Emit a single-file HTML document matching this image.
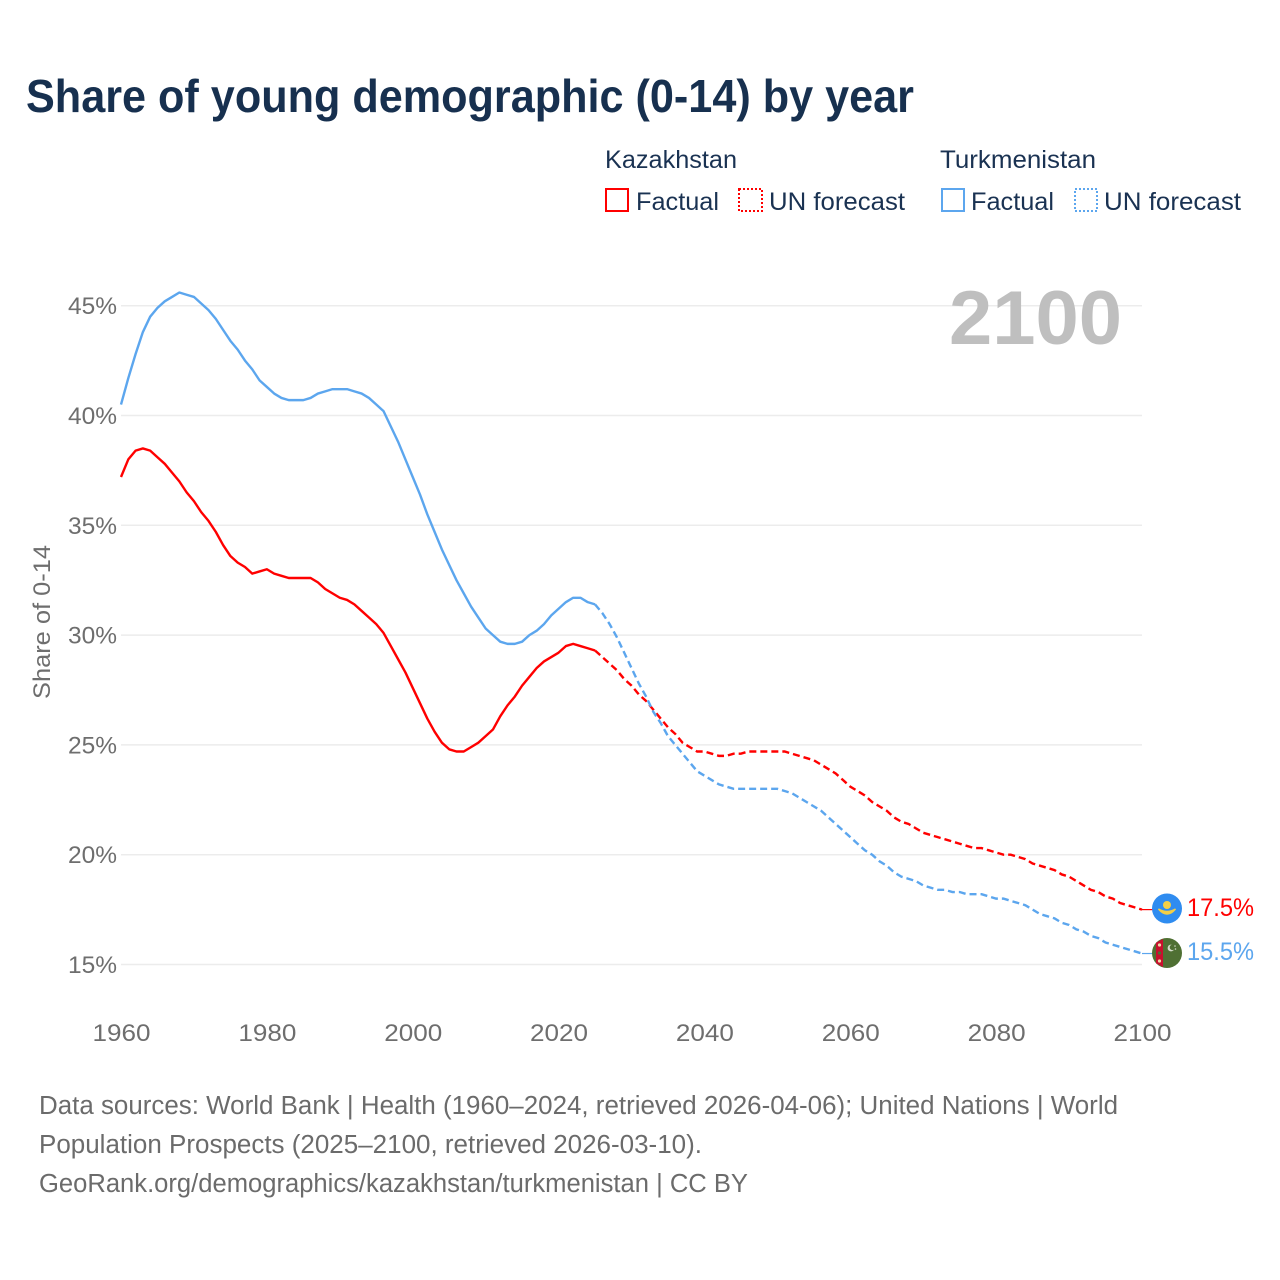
<!DOCTYPE html>
<html lang="en">
<head>
<meta charset="utf-8">
<title>Share of young demographic (0-14) by year</title>
<style>
  html, body { margin: 0; padding: 0; background: #fff; }
  svg { display: block; font-family: "Liberation Sans", sans-serif; }
</style>
</head>
<body>
<svg id="chart" xmlns="http://www.w3.org/2000/svg" width="1280" height="1280" viewBox="0 0 1280 1280">
  <rect width="1280" height="1280" fill="#ffffff"/>
  <text x="26" y="112" font-size="46" font-weight="700" fill="#17304f" textLength="888" lengthAdjust="spacingAndGlyphs">Share of young demographic (0-14) by year</text>

  <g font-size="25" fill="#1a3252">
    <text x="605" y="168" textLength="132" lengthAdjust="spacingAndGlyphs">Kazakhstan</text>
    <rect x="606" y="189" width="22" height="22" fill="none" stroke="#ff0000" stroke-width="2"/>
    <text x="636" y="210" textLength="83" lengthAdjust="spacingAndGlyphs">Factual</text>
    <rect x="739" y="189" width="23" height="22" fill="none" stroke="#ff0000" stroke-width="2" stroke-dasharray="2 2"/>
    <text x="769" y="210" textLength="136" lengthAdjust="spacingAndGlyphs">UN forecast</text>

    <text x="940" y="168" textLength="156" lengthAdjust="spacingAndGlyphs">Turkmenistan</text>
    <rect x="942" y="189" width="22" height="22" fill="none" stroke="#5ca6ee" stroke-width="2"/>
    <text x="971" y="210" textLength="83" lengthAdjust="spacingAndGlyphs">Factual</text>
    <rect x="1075" y="189" width="22" height="22" fill="none" stroke="#5ca6ee" stroke-width="2" stroke-dasharray="2 2"/>
    <text x="1104" y="210" textLength="137" lengthAdjust="spacingAndGlyphs">UN forecast</text>
  </g>

  <g id="grid"></g>
  <g id="y-ticks"></g>
  <g id="x-ticks"></g>

  <text transform="translate(50 622) rotate(-90)" text-anchor="middle" font-size="24" fill="#6e6e6e" textLength="154" lengthAdjust="spacingAndGlyphs">Share of 0-14</text>
  <text x="949" y="344" font-size="76" font-weight="700" fill="#bfbfbf" textLength="173" lengthAdjust="spacingAndGlyphs">2100</text>

  <g id="series"></g>

  <g>
    <circle cx="1167" cy="908.5" r="15" fill="#2f8cf0"/>
    <circle cx="1167" cy="905" r="4" fill="#f4cf46"/>
    <path d="M1158.5 909 Q1167 919 1175.5 909 Q1167 914 1158.5 909 Z" fill="#f4cf46" stroke="#f4cf46" stroke-width="1.5"/>
  </g>
  <g>
    <circle cx="1167" cy="953" r="15" fill="#4f7033"/>
    <path d="M1156 942.8 L1163 939 L1163 967 L1156 963.2 Z" fill="#c8102e"/>
    <circle cx="1159.5" cy="945" r="1.6" fill="#f1d9a8"/>
    <circle cx="1159.5" cy="953" r="1.6" fill="#4f7033"/>
    <circle cx="1159.5" cy="961" r="1.6" fill="#f1d9a8"/>
    <circle cx="1171" cy="948" r="3.4" fill="#d5dccb"/>
    <circle cx="1172.5" cy="947.3" r="2.8" fill="#4f7033"/>
    <circle cx="1175" cy="946" r="0.8" fill="#d5dccb"/>
    <circle cx="1175.5" cy="949" r="0.8" fill="#d5dccb"/>
  </g>

  <text id="label-kz" x="1187" y="916" font-size="25" fill="#ff0000" textLength="67" lengthAdjust="spacingAndGlyphs"></text>
  <text id="label-tm" x="1187" y="960" font-size="25" fill="#5ca6ee" textLength="67" lengthAdjust="spacingAndGlyphs"></text>

  <g font-size="25.5" fill="#6b6b6b">
    <text x="39" y="1114" textLength="1079" lengthAdjust="spacingAndGlyphs">Data sources: World Bank | Health (1960–2024, retrieved 2026-04-06); United Nations | World</text>
    <text x="39" y="1153" textLength="663" lengthAdjust="spacingAndGlyphs">Population Prospects (2025–2100, retrieved 2026-03-10).</text>
    <text x="39" y="1192" textLength="709" lengthAdjust="spacingAndGlyphs">GeoRank.org/demographics/kazakhstan/turkmenistan | CC BY</text>
  </g>
</svg>
<script>
const yTickValues = [15, 20, 25, 30, 35, 40, 45];
const xTickYears = [1960, 1980, 2000, 2020, 2040, 2060, 2080, 2100];
const factualStartYear = 1960;
const forecastStartYear = 2025;

const kazakhstanFactual = [
  37.2, 38.0, 38.4, 38.5, 38.4, 38.1, 37.8, 37.4, 37.0, 36.5,
  36.1, 35.6, 35.2, 34.7, 34.1, 33.6, 33.3, 33.1, 32.8, 32.9,
  33.0, 32.8, 32.7, 32.6, 32.6, 32.6, 32.6, 32.4, 32.1, 31.9,
  31.7, 31.6, 31.4, 31.1, 30.8, 30.5, 30.1, 29.5, 28.9, 28.3,
  27.6, 26.9, 26.2, 25.6, 25.1, 24.8, 24.7, 24.7, 24.9, 25.1,
  25.4, 25.7, 26.3, 26.8, 27.2, 27.7, 28.1, 28.5, 28.8, 29.0,
  29.2, 29.5, 29.6, 29.5, 29.4, 29.3
];
const kazakhstanForecast = [
  29.3, 29.0, 28.7, 28.4, 28.0,
  27.7, 27.3, 27.0, 26.6, 26.2, 25.8, 25.5, 25.1, 24.9, 24.7,
  24.7, 24.6, 24.5, 24.5, 24.6, 24.6, 24.7, 24.7, 24.7, 24.7,
  24.7, 24.7, 24.6, 24.5, 24.4, 24.3, 24.1, 23.9, 23.7, 23.4,
  23.1, 22.9, 22.7, 22.4, 22.2, 22.0, 21.7, 21.5, 21.4, 21.2,
  21.0, 20.9, 20.8, 20.7, 20.6, 20.5, 20.4, 20.3, 20.3, 20.2,
  20.1, 20.0, 20.0, 19.9, 19.8, 19.6, 19.5, 19.4, 19.3, 19.1,
  19.0, 18.8, 18.6, 18.4, 18.3, 18.1, 18.0, 17.8, 17.7, 17.6,
  17.5
];
const turkmenistanFactual = [
  40.5, 41.7, 42.8, 43.8, 44.5, 44.9, 45.2, 45.4, 45.6, 45.5,
  45.4, 45.1, 44.8, 44.4, 43.9, 43.4, 43.0, 42.5, 42.1, 41.6,
  41.3, 41.0, 40.8, 40.7, 40.7, 40.7, 40.8, 41.0, 41.1, 41.2,
  41.2, 41.2, 41.1, 41.0, 40.8, 40.5, 40.2, 39.5, 38.8, 38.0,
  37.2, 36.4, 35.5, 34.7, 33.9, 33.2, 32.5, 31.9, 31.3, 30.8,
  30.3, 30.0, 29.7, 29.6, 29.6, 29.7, 30.0, 30.2, 30.5, 30.9,
  31.2, 31.5, 31.7, 31.7, 31.5, 31.4
];
const turkmenistanForecast = [
  31.4, 31.0, 30.5, 29.9, 29.2,
  28.5, 27.8, 27.2, 26.5, 26.0, 25.4, 25.0, 24.6, 24.2, 23.8,
  23.6, 23.4, 23.2, 23.1, 23.0, 23.0, 23.0, 23.0, 23.0, 23.0,
  23.0, 22.9, 22.8, 22.6, 22.4, 22.2, 22.0, 21.7, 21.4, 21.1,
  20.8, 20.5, 20.2, 20.0, 19.7, 19.5, 19.2, 19.0, 18.9, 18.8,
  18.6, 18.5, 18.4, 18.4, 18.3, 18.3, 18.2, 18.2, 18.2, 18.1,
  18.0, 18.0, 17.9, 17.8, 17.7, 17.5, 17.3, 17.2, 17.1, 16.9,
  16.8, 16.6, 16.5, 16.3, 16.2, 16.0, 15.9, 15.8, 15.7, 15.6,
  15.5
];

const NS = 'http://www.w3.org/2000/svg';
const xScale = (year) => 121 + (year - 1960) * (1021 / 140);
const yScale = (v) => 964.5 - (v - 15) * 21.96;

function svgEl(tag, attrs, parent) {
  const el = document.createElementNS(NS, tag);
  Object.keys(attrs).forEach((k) => el.setAttribute(k, attrs[k]));
  parent.appendChild(el);
  return el;
}
function seriesPoints(values, startYear) {
  return values.map((v, i) => xScale(startYear + i).toFixed(2) + ',' + yScale(v).toFixed(2)).join(' ');
}

const gridGroup = document.getElementById('grid');
const yTickGroup = document.getElementById('y-ticks');
const xTickGroup = document.getElementById('x-ticks');
const seriesGroup = document.getElementById('series');

yTickValues.forEach((v) => {
  const line = svgEl('line', { x1: 121, x2: 1142, y1: yScale(v), y2: yScale(v), stroke: '#ececec', 'stroke-width': 1.5 }, gridGroup);
  
  
  const label = svgEl('text', { x: 117, y: yScale(v) + 8.5, 'text-anchor': 'end', 'font-size': 24, fill: '#6e6e6e', textLength: 49, lengthAdjust: 'spacingAndGlyphs' }, yTickGroup);
  
  
  label.textContent = v + '%';
});

xTickYears.forEach((year) => {
  const label = svgEl('text', { x: xScale(year) + 0.5, y: 1041, 'text-anchor': 'middle', 'font-size': 24, fill: '#6e6e6e', textLength: 58, lengthAdjust: 'spacingAndGlyphs' }, xTickGroup);
  
  
  label.textContent = year;
});

const kzFactualLine = svgEl('polyline', { points: seriesPoints(kazakhstanFactual, factualStartYear), fill: 'none', stroke: '#ff0000', 'stroke-width': 2.4, 'stroke-linejoin': 'round' }, seriesGroup);



const kzForecastLine = svgEl('polyline', { points: seriesPoints(kazakhstanForecast, forecastStartYear), fill: 'none', stroke: '#ff0000', 'stroke-width': 2.4, 'stroke-dasharray': '7 4' }, seriesGroup);



const tmFactualLine = svgEl('polyline', { points: seriesPoints(turkmenistanFactual, factualStartYear), fill: 'none', stroke: '#5ca6ee', 'stroke-width': 2.4, 'stroke-linejoin': 'round' }, seriesGroup);



const tmForecastLine = svgEl('polyline', { points: seriesPoints(turkmenistanForecast, forecastStartYear), fill: 'none', stroke: '#5ca6ee', 'stroke-width': 2.4, 'stroke-dasharray': '7 4' }, seriesGroup);



const kzLast = kazakhstanForecast[kazakhstanForecast.length - 1];
const tmLast = turkmenistanForecast[turkmenistanForecast.length - 1];

const kzConnector = svgEl('line', { x1: xScale(2100), x2: 1153, y1: yScale(kzLast), y2: yScale(kzLast), stroke: '#ff0000', 'stroke-width': 1.2 }, seriesGroup);



const tmConnector = svgEl('line', { x1: xScale(2100), x2: 1153, y1: yScale(tmLast), y2: yScale(tmLast), stroke: '#5ca6ee', 'stroke-width': 1.2 }, seriesGroup);



document.getElementById('label-kz').textContent = kzLast.toFixed(1) + '%';
document.getElementById('label-tm').textContent = tmLast.toFixed(1) + '%';
</script>
</body>
</html>
